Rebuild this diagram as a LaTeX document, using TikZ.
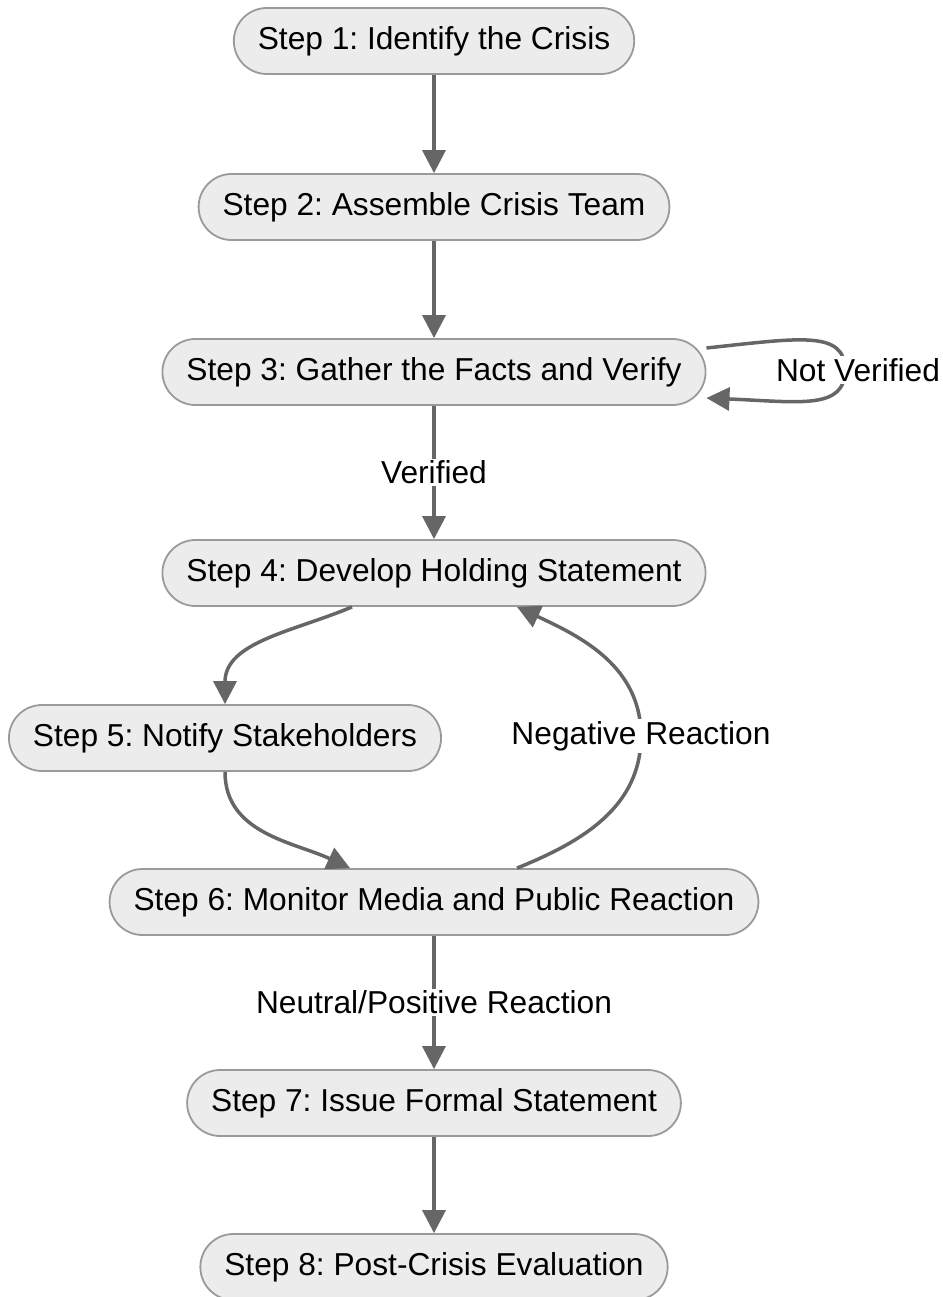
\documentclass[tikz,border=0pt]{standalone}
\usepackage{fontspec}
\setmainfont{Liberation Sans}
\usetikzlibrary{arrows.meta}

\definecolor{boxfill}{HTML}{ECECEC}
\definecolor{boxline}{HTML}{9A9A9A}
\definecolor{edgeline}{HTML}{666666}

\frenchspacing

\begin{document}
\begin{tikzpicture}[x=1pt, y=1pt]
\tikzset{
  arrow/.style={
    >={Triangle[length=23pt, width=23pt]}
  },
  line/.style={
    draw=edgeline,
    ->,
    line width=3.5pt,
  },
  stepbox/.style={
    draw=boxline,
    fill=boxfill,
    line width=1.8pt,
    rounded corners=33pt,
    minimum height=66pt,
    inner xsep=24pt,
    font=\fontsize{31.7pt}{38pt}\selectfont
  },
  cond/.style={
    fill=white,
    inner sep=2pt,
    font=\fontsize{31.7pt}{38pt}\selectfont
  }
}

\useasboundingbox (0,0) rectangle (942,-1297);

% Steps
\node (step1) [stepbox] at (434,-41) {Step 1: Identify the Crisis};
\node (step2) [stepbox] at (434,-207) {Step 2: Assemble Crisis Team};
\node (step3) [stepbox] at (434,-372) {Step 3: Gather the Facts and Verify};
\node (step4) [stepbox] at (434,-573) {Step 4: Develop Holding Statement};
\node (step5) [stepbox] at (225,-738) {Step 5: Notify Stakeholders};
\node (step6) [stepbox] at (434,-902) {Step 6: Monitor Media and Public Reaction};
\node (step7) [stepbox] at (434,-1103) {Step 7: Issue Formal Statement};
\node (step8) [stepbox] at (434,-1267) {Step 8: Post-Crisis Evaluation};

% Straight flow
\draw[line, arrow] (step1) to (step2);
\draw[line, arrow] (step2) to (step3);
\draw[line, arrow] (step3) to node[cond] {Verified} (step4);
\draw[line, arrow] (step6) to node[cond] {Neutral/Positive Reaction} (step7);
\draw[line, arrow] (step7) to (step8);

% Not verified loop
\coordinate (notvpt) at (845,-370);
\draw[line, arrow] ([yshift=24pt]step3.east) .. controls (800,-338) and (845,-330) .. (notvpt)
  .. controls (845,-410) and (800,-402) .. ([yshift=-26pt]step3.east);
\node (notverified) [cond] at (858,-370) {Not Verified};

% Stakeholders and reaction
\draw[line, arrow, out=203, in=90] ([xshift=-82pt]step4.south) to (step5.north);
\draw[line, arrow, out=270, in=155] (step5.south) to ([xshift=-84pt]step6.north);

\coordinate (negpt) at (641,-736);
\draw[line, arrow] ([xshift=83pt]step6.north) to[out=22, in=270] (negpt)
  to[out=90, in=335] ([xshift=83pt]step4.south);
\node (negative) [cond] at (negpt) {Negative Reaction};

\end{tikzpicture}
\end{document}
